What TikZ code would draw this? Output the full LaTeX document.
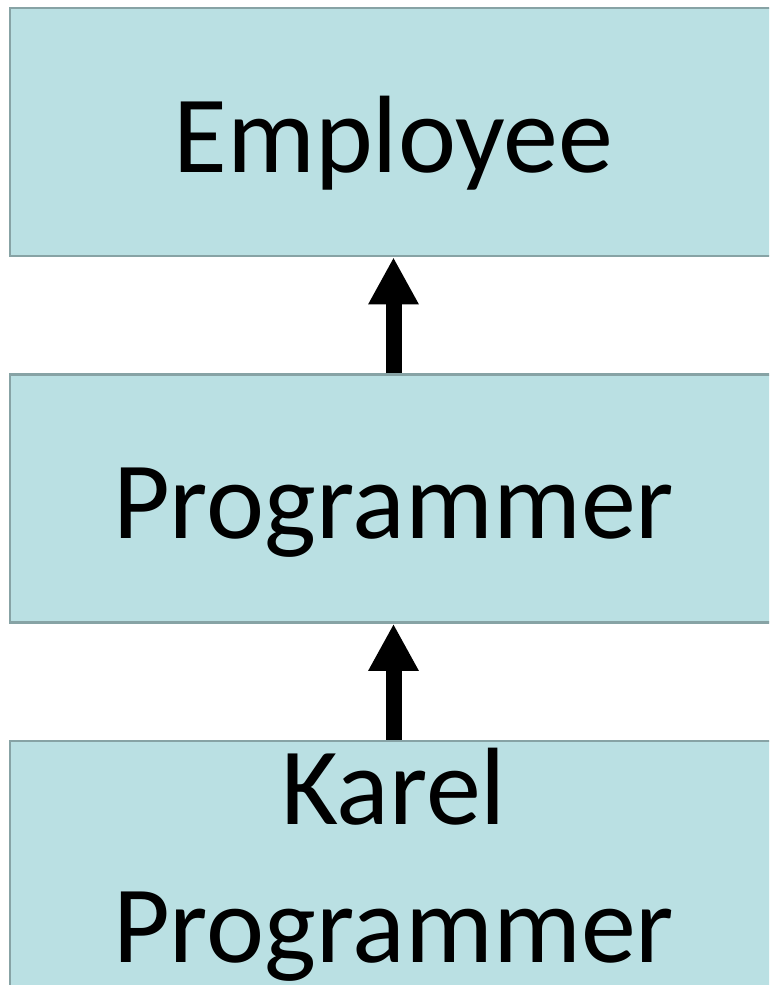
\documentclass[tikz,border=0pt]{standalone}
\usepackage{fontspec}
\setmainfont{Carlito}
\usetikzlibrary{positioning,arrows.meta}
\definecolor{boxfill}{RGB}{186,224,227}
\definecolor{boxline}{RGB}{135,163,165}

\begin{document}
\begin{tikzpicture}[x=1pt, y=1pt,
	class/.style={draw=boxline, fill=boxfill, line width=2.5pt, inner sep=0pt,
		minimum width=767pt, minimum height=248pt,
		font=\fontsize{110}{132}\selectfont},
	oneline/.style={text height=106pt, text depth=26pt},
	inherits/.style={line width=16pt, -{Triangle[width=47pt,length=47pt]}}]
	\clip (0,0) rectangle (769,-985);
	\node[class, oneline] (employee) at (393.5,-132) {Employee};
	\node[class, oneline, below=116pt of employee] (programmer) {Programmer};
	\node[class, align=center, below=116pt of programmer] (karel) {Karel\\[6pt]Programmer};
	\draw[inherits] (programmer) -- (employee);
	\draw[inherits] (karel) -- (programmer);
\end{tikzpicture}
\end{document}
